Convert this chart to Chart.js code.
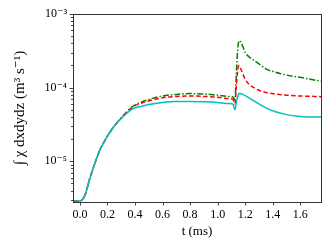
<!DOCTYPE html>
<html><head><meta charset="utf-8">
<script src="https://cdn.jsdelivr.net/npm/chart.js@4"></script>
<style>html,body{margin:0;padding:0;background:#fff}#wrap{width:332px;height:249px}</style>
</head><body><div id="wrap"><canvas id="c" width="332" height="249"></canvas></div>
<script>
const tValues = [-0.05,0.0,0.02,0.04,0.07,0.1,0.14,0.18,0.24,0.3,0.38,0.45,0.5,0.6,0.7,0.8,0.9,1.0,1.08,1.11,1.125,1.135,1.145,1.155,1.17,1.2,1.23,1.27,1.3,1.35,1.42,1.5,1.6,1.7,1.75];
const greenSeries = [2.9e-6,2.9e-6,3.05e-6,3.6e-6,5.7e-6,8.4e-6,1.35e-5,1.9e-5,2.85e-5,3.9e-5,5.5e-5,6.4e-5,6.9e-5,7.7e-5,8.1e-5,8.3e-5,8.2e-5,7.9e-5,7.6e-5,7.5e-5,6.8e-5,1.5e-4,3.2e-4,4.35e-4,4.1e-4,3.0e-4,2.6e-4,2.3e-4,2.1e-4,1.8e-4,1.62e-4,1.48e-4,1.38e-4,1.27e-4,1.22e-4];
const redSeries = [2.9e-6,2.9e-6,3.05e-6,3.6e-6,5.7e-6,8.4e-6,1.35e-5,1.9e-5,2.85e-5,3.85e-5,5.4e-5,6.2e-5,6.6e-5,7.3e-5,7.6e-5,7.7e-5,7.6e-5,7.4e-5,7.1e-5,7.0e-5,6.0e-5,1.0e-4,1.7e-4,2.0e-4,1.75e-4,1.3e-4,1.1e-4,9.8e-5,9.2e-5,8.6e-5,8.2e-5,7.9e-5,7.7e-5,7.6e-5,7.55e-5];
const cyanSeries = [2.9e-6,2.9e-6,3.05e-6,3.6e-6,5.7e-6,8.4e-6,1.35e-5,1.9e-5,2.85e-5,3.8e-5,5.1e-5,5.6e-5,5.9e-5,6.3e-5,6.5e-5,6.5e-5,6.45e-5,6.3e-5,6.1e-5,6.0e-5,5.0e-5,6.2e-5,7.5e-5,8.3e-5,8.25e-5,7.8e-5,7.2e-5,6.5e-5,6.0e-5,5.3e-5,4.7e-5,4.3e-5,4.07e-5,4.0e-5,4.0e-5];
const xTickValues = [0,0.2,0.4,0.6,0.8,1.0,1.2,1.4,1.6];
const yMajorTicks = [1e-5,1e-4,1e-3];
const yTickLabels = ['10\u207B\u2075','10\u207B\u2074','10\u207B\u00B3'];
const xTitle = 't (ms)';
const yTitle = '\u222B \u03C7 dxdydz (m\u00B3 s\u207B\u00B9)';

const yMin = 2.8e-6, yMax = 1e-3;
const yAllTicks = [];
for (let e = -6; e <= -3; e++) for (let m = 1; m <= 9; m++) {
  const v = +(m * Math.pow(10, e)).toPrecision(3);
  if (v >= yMin && v <= yMax * 1.0001) yAllTicks.push(v);
}
const FONT = '"Liberation Serif", "DejaVu Serif", serif';

const frame = {
  id: 'frame',
  afterDraw(chart) {
    const {ctx, chartArea: a, scales} = chart;
    ctx.save();
    ctx.strokeStyle = '#333';
    ctx.lineWidth = 1;
    ctx.strokeRect(Math.round(a.left) + 0.5, Math.round(a.top) + 0.5, Math.round(a.right - a.left), Math.round(a.bottom - a.top));
    ctx.strokeStyle = '#444';
    yAllTicks.forEach(v => {
      const y = Math.round(scales.y.getPixelForValue(v)) + 0.5;
      const major = yMajorTicks.some(m => Math.abs(m - v) / m < 1e-6);
      const len = major ? 3.5 : 2;
      ctx.beginPath(); ctx.moveTo(a.left, y); ctx.lineTo(a.left - len, y); ctx.stroke();
    });
    xTickValues.forEach(v => {
      const x = Math.round(scales.x.getPixelForValue(v)) + 0.5;
      ctx.beginPath(); ctx.moveTo(x, a.bottom); ctx.lineTo(x, a.bottom + 3.5); ctx.stroke();
    });
    ctx.restore();
  }
};

const mk = (data, color, dash) => ({
  data: tValues.map((t, i) => ({x: t, y: data[i]})),
  borderColor: color, borderWidth: 1.5, borderDash: dash,
  pointRadius: 0, fill: false, cubicInterpolationMode: 'monotone'
});

new Chart(document.getElementById('c'), {
  type: 'line',
  data: { datasets: [
    mk(cyanSeries, '#00bfbf', []),
    mk(redSeries, '#ff0000', [4.5, 2.5]),
    mk(greenSeries, '#008000', [6, 2, 1.5, 2])
  ]},
  options: {
    responsive: false, animation: false,
    layout: { padding: { top: 14, right: 11, left: 0, bottom: 0 } },
    plugins: { legend: { display: false }, tooltip: { enabled: false } },
    scales: {
      x: {
        type: 'linear', min: -0.05, max: 1.75,
        afterBuildTicks: s => { s.ticks = xTickValues.map(v => ({value: v})); },
        afterFit: s => { s.height = 47; },
        grid: { display: false, drawTicks: false },
        border: { display: false },
        ticks: { padding: 6, color: '#000', font: { family: FONT, size: 12 }, maxRotation: 0,
          callback: v => v.toFixed(1) },
        title: { display: true, text: xTitle, color: '#000', font: { family: FONT, size: 13 }, padding: { top: 0, bottom: 10 } }
      },
      y: {
        type: 'logarithmic', min: yMin, max: yMax,
        afterBuildTicks: s => { s.ticks = yAllTicks.map(v => ({value: v})); },
        afterFit: s => { s.width = 73; },
        grid: { display: false, drawTicks: false },
        border: { display: false },
        ticks: { padding: 6, color: '#000', font: { family: FONT, size: 12 }, autoSkip: false,
          callback: v => { const i = yMajorTicks.findIndex(m => Math.abs(m - v) / m < 1e-6); return i >= 0 ? yTickLabels[i] : ''; } },
        title: { display: true, text: yTitle, color: '#000', font: { family: FONT, size: 15 }, padding: { top: 11, bottom: 0 } }
      }
    }
  },
  plugins: [frame]
});
</script></body></html>
